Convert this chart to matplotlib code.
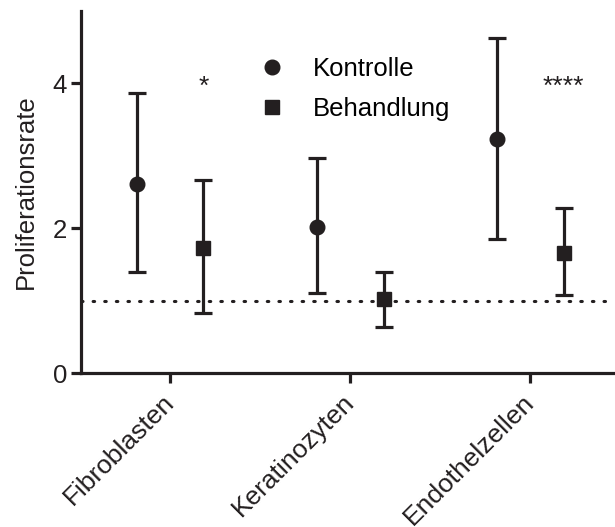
import numpy as np
import matplotlib.pyplot as plt
import matplotlib.transforms as mtransforms
from matplotlib.lines import Line2D

plt.rcParams['font.family'] = ['Liberation Sans', 'DejaVu Sans']

# Data
categories = ['Fibroblasten', 'Keratinozyten', 'Endothelzellen']
kontrolle_mean = [2.61, 2.02, 3.23]
kontrolle_low = [1.40, 1.10, 1.85]
kontrolle_high = [3.86, 2.97, 4.62]
behandlung_mean = [1.72, 1.02, 1.66]
behandlung_low = [0.83, 0.64, 1.08]
behandlung_high = [2.66, 1.40, 2.28]
signif = ['*', '', '****']
baseline = 1.0

x = np.arange(len(categories))
off = 0.185
col = '#231f20'

fig = plt.figure(figsize=(6.15, 5.27), dpi=100)
ax = fig.add_axes([0.1317, 0.292, 0.8683, 0.6877])

k_mean = np.array(kontrolle_mean)
b_mean = np.array(behandlung_mean)
k_err = [k_mean - np.array(kontrolle_low), np.array(kontrolle_high) - k_mean]
b_err = [b_mean - np.array(behandlung_low), np.array(behandlung_high) - b_mean]

ax.axhline(baseline, color=col, lw=2.2, ls=(0, (0.5, 3.3)), dash_capstyle='round', zorder=1)

ax.errorbar(x - off, k_mean, yerr=k_err, fmt='o', color=col, ms=10.5,
            elinewidth=2.3, capsize=6.5, capthick=2.3, zorder=3)
ax.errorbar(x + off, b_mean, yerr=b_err, fmt='s', color=col, ms=10,
            elinewidth=2.3, capsize=6.5, capthick=2.3, zorder=3)

for xi, s in zip(x, signif):
    if s:
        ax.text(xi + off, 3.95, s, ha='center', va='center', fontsize=19, color=col)

ax.set_xlim(-0.495, 2.47)
ax.set_ylim(0, 5)
ax.set_yticks([0, 2, 4])
ax.set_xticks(x)
ax.set_xticklabels(categories, rotation=45, ha='right', rotation_mode='anchor', fontsize=19)
ax.set_ylabel('Proliferationsrate', fontsize=18.5, color=col, labelpad=11)

for s in ['top', 'right']:
    ax.spines[s].set_visible(False)
for s in ['left', 'bottom']:
    ax.spines[s].set_linewidth(2.3)
    ax.spines[s].set_color(col)
ax.tick_params(axis='both', length=7, width=2.3, color=col, labelsize=18.5,
               labelcolor=col, pad=3)
ax.tick_params(axis='x', labelsize=19, pad=5)

# nudge rotated labels a bit to the left, like the reference
shift = mtransforms.ScaledTranslation(-8 / 100, 0, fig.dpi_scale_trans)
for lbl in ax.get_xticklabels():
    lbl.set_transform(lbl.get_transform() + shift)

handles = [Line2D([], [], marker='o', ls='none', color=col, ms=10.5),
           Line2D([], [], marker='s', ls='none', color=col, ms=10)]
ax.legend(handles, ['Kontrolle', 'Behandlung'], loc='upper left',
          bbox_to_anchor=(0.29, 0.937), frameon=False, fontsize=18.5,
          handletextpad=1.1, labelspacing=0.62, handlelength=1.0)

fig.savefig('out.png', dpi=100)
